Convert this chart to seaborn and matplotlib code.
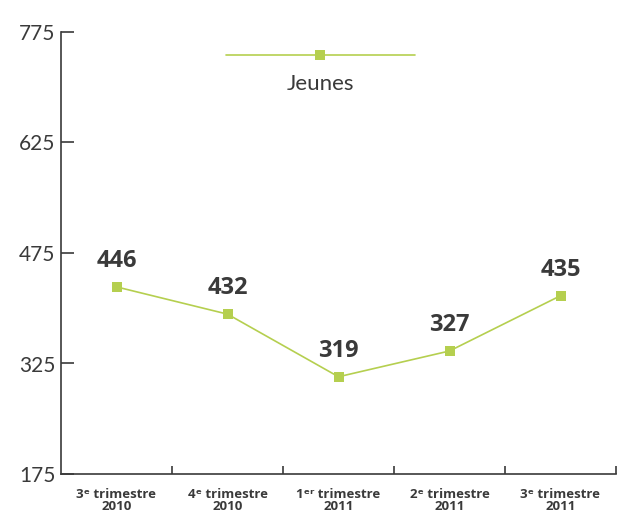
import pandas as pd
import matplotlib.pyplot as plt
from matplotlib.lines import Line2D
import seaborn as sns

# data
quarters = ["3ᵉ trimestre\n2010", "4ᵉ trimestre\n2010", "1ᵉʳ trimestre\n2011",
            "2ᵉ trimestre\n2011", "3ᵉ trimestre\n2011"]
values = [429, 392, 307, 342, 417]          # plotted positions
value_labels = ["446", "432", "319", "327", "435"]  # printed labels
yticks = [175, 325, 475, 625, 775]
series_name = "Jeunes"

green = "#b5cf4f"
dark = "#3a3a3a"

sns.set_style("white")
plt.rcParams['font.family'] = ['Lato', 'DejaVu Sans']

df = pd.DataFrame({"quarter": quarters, "value": values})

fig = plt.figure(figsize=(6.17, 5.15), dpi=100)
ax = fig.add_axes([61 / 617, 1 - 474 / 515, 555 / 617, 442 / 515])

sns.lineplot(data=df, x="quarter", y="value", ax=ax, color=green, linewidth=1.2,
             marker="s", markersize=7, markeredgewidth=0, sort=False)

# value labels above the markers
for i, (v, lab) in enumerate(zip(values, value_labels)):
    ax.annotate(lab, (i, v), xytext=(0, 10), textcoords="offset points",
                ha="center", va="bottom", fontsize=17, fontweight="bold",
                color=dark, family=["Open Sans", "DejaVu Sans"])

ax.set_ylim(175, 775)
ax.set_xlim(-0.5, len(quarters) - 0.5)
ax.set_yticks(yticks)
ax.set_yticklabels([str(t) for t in yticks], fontsize=15, color=dark)
ax.tick_params(axis="y", left=True, direction="in", length=9, width=1.2,
               color=dark, pad=4)

ax.set_xticks(range(len(quarters)))
ax.set_xticklabels(quarters, fontsize=9.5, fontweight="bold", color=dark,
                   family=["Open Sans", "DejaVu Sans"], linespacing=0.95)
ax.tick_params(axis="x", bottom=True, length=0, pad=10)
ax.set_xticks([i + 0.5 for i in range(len(quarters))], minor=True)
ax.tick_params(axis="x", which="minor", bottom=True, direction="in", length=6,
               width=1.2, color=dark)

ax.set_xlabel("")
ax.set_ylabel("")
sns.despine(ax=ax, top=True, right=True)
for s in ["left", "bottom"]:
    ax.spines[s].set_color(dark)
    ax.spines[s].set_linewidth(1.2)

# legend: handle line with the name underneath
handle = Line2D([], [], color=green, linewidth=1.2, marker="s", markersize=7,
                markeredgewidth=0)
ax.legend([handle], [""], loc="center left",
          bbox_to_anchor=(226 / 617, 1 - 57 / 515), bbox_transform=fig.transFigure,
          frameon=False, handlelength=187 / 22, handletextpad=0, borderpad=0,
          borderaxespad=0, numpoints=1, fontsize=16)
fig.text(320 / 617, 1 - 84 / 515, series_name, ha="center", va="center",
         fontsize=16, color=dark)

fig.savefig("out.png", dpi=100)
